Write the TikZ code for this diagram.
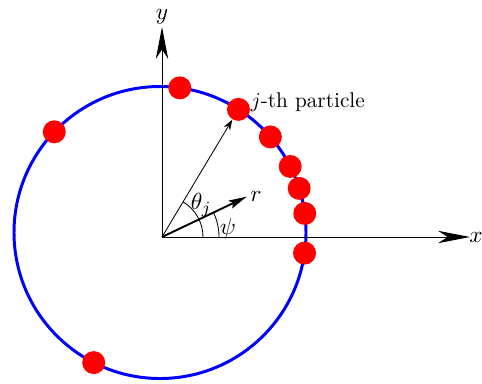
\documentclass[tikz,border=0pt]{standalone}
\usepackage{amsmath}
\usetikzlibrary{arrows.meta,positioning,calc}
\definecolor{RingBlue}{HTML}{0000FF}
\definecolor{DotRed}{HTML}{FF0000}
\tikzset{
  axisline/.style={-{Stealth[length=15pt,width=5.8pt,inset=4.5pt]},line width=0.45pt},
  ring/.style={draw=RingBlue,line width=1.4pt},
  particle/.style={circle,fill=DotRed,inner sep=0pt,minimum size=10.8pt},
  posarrow/.style={-{Stealth[length=5pt,width=3.4pt]},line width=0.4pt},
  rarrow/.style={-{Stealth[length=8.5pt,width=4pt,inset=1.5pt]},line width=0.9pt},
  anglearc/.style={line width=0.4pt},
  alabel/.style={inner sep=0pt,font=\fontsize{11}{13}\selectfont}
}

\begin{document}
\begin{tikzpicture}[x=0.47pt,y=0.47pt]
  \useasboundingbox (-162,-146) rectangle (320,237);

  \coordinate (O) at (0,0);
  \coordinate (ctr) at (-2,4.5);
  \coordinate (xtip) at (308,0);
  \coordinate (ytip) at (0,210);
  \coordinate (rtip) at (84.7,40.3);

  \draw[ring] (ctr) circle[radius=146];

  \draw[axisline] (O) -- (xtip);
  \draw[axisline] (O) -- (ytip);
  \node[alabel,anchor=west,xshift=-0.5pt] (xlabel) at (xtip) {$x$};
  \node[alabel,above=1pt of ytip] (ylabel) {$y$};

  \node[particle] (p1) at ($(ctr)+(82.2:146)$) {};
  \node[particle] (pj) at ($(ctr)+(57.5:146)$) {};
  \node[particle] (p3) at ($(ctr)+(40.9:146)$) {};
  \node[particle] (p4) at ($(ctr)+(26.9:146)$) {};
  \node[particle] (p5) at ($(ctr)+(17.6:146)$) {};
  \node[particle] (p6) at ($(ctr)+(7.5:146)$) {};
  \node[particle] (p7) at ($(ctr)+(-8.1:146)$) {};
  \node[particle] (p8) at ($(ctr)+(136.4:146)$) {};
  \node[particle] (p9) at ($(ctr)+(243:146)$) {};

  \node[alabel,anchor=west,font=\fontsize{10}{12}\selectfont] (pjlabel) at ([yshift=3.5pt]pj.east) {$j$-th particle};

  \draw[posarrow] (O) -- (pj);
  \draw[rarrow] (O) -- (rtip);
  \node[alabel,right=1.5pt of rtip] (rlabel) {$r$};

  \draw[anglearc] (41,0) arc[start angle=0,end angle=59,radius=41];
  \draw[anglearc] (57,0) arc[start angle=0,end angle=25.4,radius=57];
  \node[alabel] (thetalabel) at (39,32) {$\theta_j$};
  \node[alabel] (psilabel) at (66,8) {$\psi$};
\end{tikzpicture}
\end{document}
